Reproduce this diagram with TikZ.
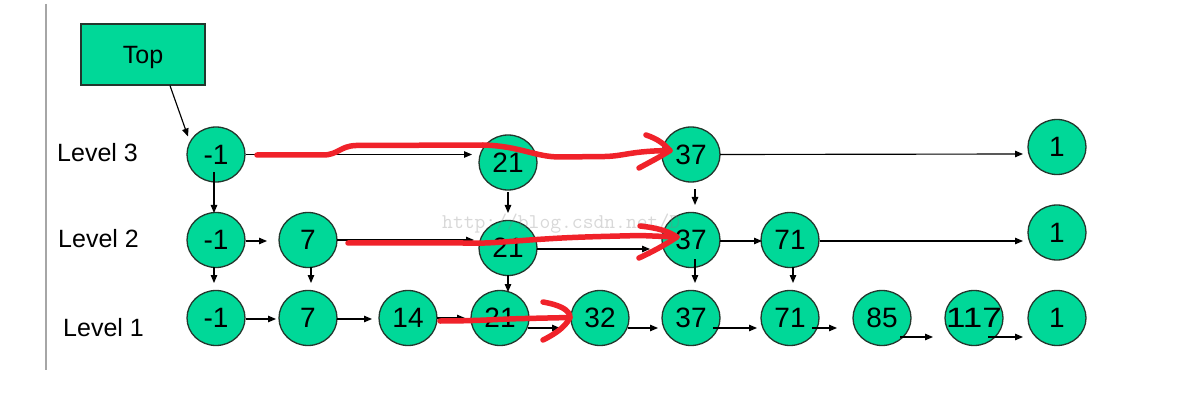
\documentclass[tikz,border=0pt]{standalone}
\usepackage{fontspec}
\setmainfont{Liberation Sans}
\usetikzlibrary{shapes.geometric,arrows.meta,calc}
\definecolor{nodegreen}{RGB}{0,216,152}
\definecolor{nodeline}{RGB}{35,55,45}
\definecolor{handred}{RGB}{240,34,42}
\tikzset{
  listnode/.style={ellipse,draw=nodeline,line width=1.3pt,fill=nodegreen,
    minimum width=58pt,minimum height=55pt,inner sep=0pt,
    font=\fontsize{28}{28}\selectfont},
  topbox/.style={rectangle,draw=nodeline,line width=1.3pt,fill=nodegreen,
    minimum width=124pt,minimum height=61pt,inner sep=0pt,text depth=0pt,
    font=\fontsize{25}{25}\selectfont},
  levellabel/.style={anchor=west,inner sep=0pt,font=\fontsize{25}{25}\selectfont},
  arr/.style={-{Triangle[length=8pt,width=6.5pt]},line width=1.15pt,black},
  redstroke/.style={handred,line width=5.5pt,line cap=round,line join=round},
}
\newcommand{\nlab}[1]{\makebox[0pt]{#1}}
\begin{document}
\begin{tikzpicture}[x=1pt,y=-1pt]
\useasboundingbox[fill=white] (0,0) rectangle (1178,406);
% left rule
\draw[line width=2pt,gray!70] (46,4) coordinate (ruletop) -- (46,370) coordinate (rulebot);
% top box
\node[topbox] (top) at (143,54.5) {Top};
% level labels
\node[levellabel] (lv3) at (57,153) {Level 3};
\node[levellabel] (lv2) at (58,239) {Level 2};
\node[levellabel] (lv1) at (63,327.5) {Level 1};
% level 3
\node[listnode] (t1) at (216,154.5) {\nlab{-1}};
\node[listnode] (t2) at (508,162.5) {\nlab{21}};
\node[listnode] (t3) at (691,154.5) {\nlab{37}};
\node[listnode] (t4) at (1057,147) {\nlab{1}};
% level 2
\node[listnode] (m1) at (216,240) {\nlab{-1}};
\node[listnode] (m2) at (308,240) {\nlab{7}};
\node[listnode] (m3) at (508,248) {\nlab{21}};
\node[listnode] (m4) at (691,240) {\nlab{37}};
\node[listnode] (m5) at (790,240) {\nlab{71}};
\node[listnode] (m6) at (1057,232.5) {\nlab{1}};
% level 1
\node[listnode] (b1) at (216,318) {\nlab{-1}};
\node[listnode] (b2) at (308,318) {\nlab{7}};
\node[listnode] (b3) at (408,318) {\nlab{14}};
\node[listnode] (b4) at (500,318) {\nlab{21}};
\node[listnode] (b5) at (600,318) {\nlab{32}};
\node[listnode] (b6) at (691,318) {\nlab{37}};
\node[listnode] (b7) at (790,318) {\nlab{71}};
\node[listnode] (b8) at (882,318) {\nlab{85}};
\node[listnode] (b9) at (974,318) {\nlab{\scalebox{1.25}[1]{117}}};
\node[listnode] (b10) at (1057,318) {\nlab{1}};
% top pointer
\draw[arr] ($(top.south)+(27,0)$) -- ($(t1)+(-28,-18)$);
% horizontal arrows level 3
\draw[arr] ($(t1)+(30,0)$) -- ($(t2)+(-36,-8)$);
\draw[arr] ($(t3)+(29,0)$) -- ($(t4)+(-34,7)$);
% level 2
\draw[arr] ($(m1)+(30,1)$) -- ($(m2)+(-41,1)$);
\draw[arr] ($(m2)+(29,0)$) -- ($(m3)+(-34,-8)$);
\draw[arr] ($(m3)+(29,1)$) -- ($(m4)+(-41,9)$);
\draw[arr] ($(m4)+(29,1)$) -- ($(m5)+(-28,1)$);
\draw[arr] ($(m5)+(30,1)$) -- ($(m6)+(-34,8.5)$);
% level 1
\draw[arr] ($(b1)+(30,1)$) -- ($(b2)+(-32,1)$);
\draw[arr] ($(b2)+(29,1)$) -- ($(b3)+(-36,1)$);
\draw[arr] ($(b3)+(29,0)$) -- ($(b4)+(-35,0)$);
\draw[arr] ($(b4)+(28,10)$) -- ($(b5)+(-40,10)$);
\draw[arr] ($(b5)+(28,10)$) -- ($(b6)+(-33,10)$);
\draw[arr] ($(b6)+(22,10)$) -- ($(b7)+(-33,10)$);
\draw[arr] ($(b7)+(22,10)$) -- ($(b8)+(-45,10)$);
\draw[arr] ($(b8)+(18,19)$) -- ($(b9)+(-41,19)$);
\draw[arr] ($(b9)+(14,19)$) -- ($(b10)+(-34,19)$);
% vertical arrows
\draw[arr] ($(t1)+(-2,18)$) -- ($(m1)+(-2,-27)$);
\draw[arr] ($(t2)+(0,30)$) -- ($(m3)+(0,-35)$);
\draw[arr] ($(t3)+(4,35)$) -- ($(m4)+(4,-35)$);
\draw[arr] ($(m1)+(-2,27)$) -- ($(b1)+(-2,-35)$);
\draw[arr] ($(m2)+(3,27)$) -- ($(b2)+(3,-35)$);
\draw[arr] ($(m3)+(0,27)$) -- ($(b4)+(8,-26)$);
\draw[arr] ($(m4)+(4,19)$) -- ($(b6)+(4,-35)$);
\draw[arr] ($(m5)+(3,27)$) -- ($(b7)+(3,-35)$);
% watermark
\node[anchor=west,inner sep=0pt,text=gray,opacity=0.3,font=\ttfamily\fontsize{21}{21}\selectfont] (wm) at (442,224) {http://blog.csdn.net/D};
% red hand strokes
\draw[redstroke] ($(t1)+(41,0.5)$) coordinate (r1s) -- (323,155) .. controls (338,155) and (340,146) .. (356,145.5)
  -- (483,145) .. controls (520,146) and (535,157) .. (560,157) -- (605,156.5)
  .. controls (625,156) and (630,151) .. (670,150.5) coordinate (r1t);
\draw[redstroke] (646,135) .. controls (658,139) and (664,144) .. (r1t) .. controls (660,157) and (650,162) .. (639,168);
\draw[redstroke] ($(m2)+(40,3)$) coordinate (r2s) -- (463,243) .. controls (490,244) and (510,241) .. (545,239)
  .. controls (575,237) and (600,236.5) .. (640,235.5) -- (677,237) coordinate (r2t);
\draw[redstroke] (640,226) .. controls (658,228) and (668,231) .. (r2t) .. controls (665,245) and (652,252) .. (639,258);
\draw[redstroke] ($(b3)+(32,3)$) coordinate (r3s) .. controls (480,321) and (500,319) .. (525,318.5) -- (570,317.5) coordinate (r3t);
\draw[redstroke] (543,302) .. controls (560,305) and (570,310) .. (r3t) .. controls (565,328) and (553,335) .. (543,340);
\end{tikzpicture}
\end{document}
